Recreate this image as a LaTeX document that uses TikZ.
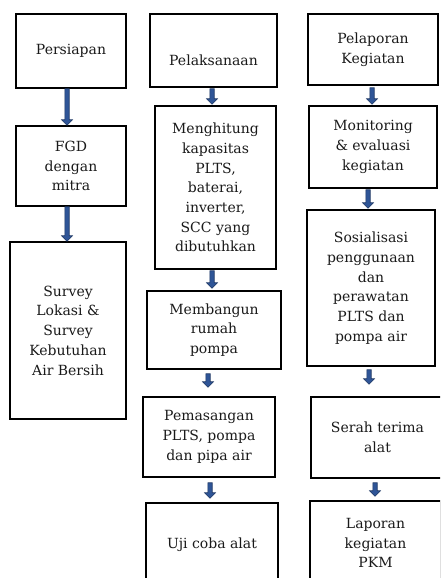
\documentclass[tikz,border=0pt]{standalone}
\usepackage{fontspec}
\setmainfont{DejaVu Serif}
\usetikzlibrary{calc}
\definecolor{arrfill}{HTML}{2F5597}
\definecolor{arrline}{HTML}{1F3864}
\definecolor{txt}{HTML}{1A1A1A}
\newcommand\blkarrow[2]{\path[blk] let \p1=(#1), \p2=(#2) in
  (\x1-2.2pt,\y1) -- (\x1+2.2pt,\y1) -- (\x1+2.2pt,\y2+5.5pt) -- (\x1+5.5pt,\y2+5.5pt)
  -- (\x1,\y2) -- (\x1-5.5pt,\y2+5.5pt) -- (\x1-2.2pt,\y2+5.5pt) -- cycle;}
\begin{document}
\begin{tikzpicture}[x=1pt,y=-1pt,
  box/.style={draw=black, line width=1.5pt, align=center, inner sep=0pt, text=txt,
    font=\fontsize{14}{19.7}\selectfont},
  blk/.style={fill=arrfill, draw=arrline, line width=0.6pt}]
\clip (0,0) rectangle (440,578);
\fill[white] (0,0) rectangle (440,578);
% column 1
\node[box, minimum width=110pt, minimum height=74pt] (p1) at (71,51) {Persiapan};
\node[box, minimum width=110pt, minimum height=80pt] (p2) at (71,166) {FGD\\dengan\\mitra};
\node[box, minimum width=116pt, minimum height=177pt] (p3) at (68,330.5) {Survey\\Lokasi \&\\Survey\\Kebutuhan\\Air Bersih};
% column 2
\node[box, minimum width=127pt, minimum height=73pt, text height=30pt] (q1) at (213.5,50.5) {Pelaksanaan};
\node[box, minimum width=121pt, minimum height=163pt] (q2) at (215.5,187.5) {Menghitung\\kapasitas\\PLTS,\\baterai,\\inverter,\\SCC yang\\dibutuhkan};
\node[box, minimum width=134pt, minimum height=78pt] (q3) at (214,330) {Membangun\\rumah\\pompa};
\node[box, minimum width=132pt, minimum height=80pt] (q4) at (209,437) {Pemasangan\\PLTS, pompa\\dan pipa air};
\node[box, minimum width=132pt, minimum height=84pt] (q5) at (212,545) {Uji coba alat};
% column 3
\node[box, minimum width=130pt, minimum height=71pt] (r1) at (373,49.5) {Pelaporan\\Kegiatan};
\node[box, minimum width=128pt, minimum height=82pt] (r2) at (373,147) {Monitoring\\\& evaluasi\\kegiatan};
\node[box, minimum width=128pt, minimum height=156pt] (r3) at (371,288) {Sosialisasi\\penggunaan\\dan\\perawatan\\PLTS dan\\pompa air};
\node[box, minimum width=133pt, minimum height=81pt] (r4) at (377.5,437.5) {Serah terima\\alat};
\node[box, minimum width=131pt, minimum height=84pt] (r5) at (375.5,543) {Laporan\\kegiatan\\PKM};
% arrows
\blkarrow{$(p1.south)+(-4,0)$}{$(p2.north)+(-4,0)$}
\blkarrow{$(p2.south)+(-4,0)$}{$(p3.north)+(-1,0)$}
\blkarrow{$(q1.south)+(-1.5,1)$}{$(q2.north)+(0,-1)$}
\blkarrow{$(q2.south)+(-3.5,1)$}{$(q3.north)+(0,-2)$}
\blkarrow{$(q3.south)+(-6,4)$}{$(q4.north)+(0,-9)$}
\blkarrow{$(q4.south)+(1,5)$}{$(q5.north)+(0,-4)$}
\blkarrow{$(r1.south)+(-1,2)$}{$(r2.north)+(0,-1)$}
\blkarrow{$(r2.south)+(-5,1)$}{$(r3.north)+(0,-1)$}
\blkarrow{$(r3.south)+(-2,3)$}{$(r4.north)+(0,-12)$}
\blkarrow{$(r4.south)+(-2.5,4)$}{$(r5.north)+(0,-4)$}
\end{tikzpicture}
\end{document}
